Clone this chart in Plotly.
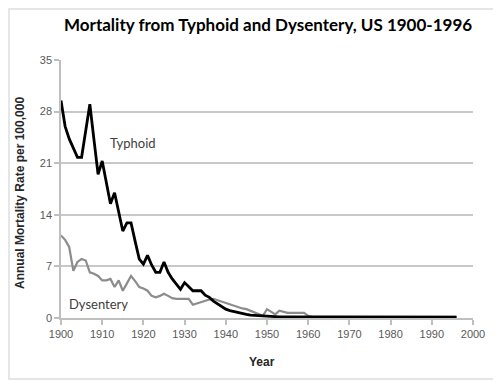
import plotly.graph_objects as go

years = list(range(1900, 1997))

typhoid_early = [29.5, 26.0, 24.3, 23.0, 21.8, 21.8, 25.4, 29.0, 24.2, 19.5,
                 21.3, 18.5, 15.5, 17.0, 14.4, 11.8, 12.9, 12.9, 10.4, 8.0,
                 7.3, 8.5, 7.2, 6.2, 6.2, 7.6, 6.2, 5.3, 4.6, 3.9,
                 4.8, 4.2, 3.7, 3.7, 3.7, 3.1, 2.8, 2.3, 1.9, 1.5,
                 1.2, 1.0, 0.85, 0.7, 0.6, 0.5, 0.4, 0.35, 0.3, 0.25,
                 0.2]
typhoid_late = [0.15] * 10 + [0.1] * 36
typhoid = typhoid_early + typhoid_late

dysentery_early = [11.2, 10.6, 9.6, 6.4, 7.6, 8.0, 7.8, 6.2, 6.0, 5.7,
                   5.1, 5.1, 5.3, 4.2, 5.1, 3.7, 4.7, 5.7, 5.0, 4.2,
                   4.0, 3.7, 3.0, 2.8, 3.0, 3.3, 3.0, 2.7, 2.6, 2.6,
                   2.6, 2.6, 1.8, 2.0, 2.1, 2.3, 2.5, 2.6, 2.4, 2.3,
                   2.1, 1.9, 1.7, 1.5, 1.3, 1.2, 1.0, 0.8, 0.5, 0.3,
                   1.2, 0.8, 0.5, 1.0, 0.8, 0.7, 0.7, 0.7, 0.7, 0.7,
                   0.3]
dysentery_late = [0.15] * 36
dysentery = dysentery_early + dysentery_late

y_ticks = [0, 7, 14, 21, 28, 35]
x_ticks = list(range(1900, 2001, 10))

title_text = "Mortality from Typhoid and Dysentery, US 1900-1996"
y_title = "Annual Mortality Rate per 100,000"
x_title = "Year"

# page body has an 8px margin; figure sized to fit the 501x382 window
OFF = 8
W, H = 501 - OFF, 382 - OFF
PL, PR, PT, PB = 61, 473, 60, 318          # plot area in screen pixels
L, T = PL - OFF, PT - OFF
R, B = W - (PR - OFF), H - (PB - OFF)
pw, ph = PR - PL, PB - PT

def px(x):
    return (x - PL) / pw

def py(y):
    return (PB - y) / ph

fig = go.Figure()
fig.add_trace(go.Scatter(x=years, y=dysentery, mode="lines",
                         line=dict(color="#8c8c8c", width=2.2), showlegend=False))
fig.add_trace(go.Scatter(x=years, y=typhoid, mode="lines",
                         line=dict(color="#000000", width=2.8), showlegend=False))

tickfont = dict(family="Liberation Sans, Arial", size=11, color="#595959")
fig.update_layout(
    width=W, height=H,
    margin=dict(l=L, r=R, t=T, b=B),
    paper_bgcolor="white", plot_bgcolor="white",
    xaxis=dict(range=[1900, 2000], tickvals=x_ticks, showgrid=False,
               showline=True, linecolor="#bfbfbf", linewidth=1.5,
               ticks="outside", ticklen=5, tickcolor="#bfbfbf", tickwidth=1.5,
               tickfont=tickfont, zeroline=False, fixedrange=True),
    yaxis=dict(range=[0, 35], tickvals=y_ticks, showgrid=True,
               gridcolor="#c8c8c8", gridwidth=1.5,
               showline=True, linecolor="#bfbfbf", linewidth=1.5,
               ticks="outside", ticklen=5, tickcolor="#bfbfbf", tickwidth=1.5,
               tickfont=tickfont, zeroline=False, fixedrange=True),
    shapes=[dict(type="rect", xref="paper", yref="paper",
                 x0=px(9), x1=px(497.5), y0=py(379), y1=py(9),
                 line=dict(color="#dedede", width=1.5), layer="below")],
    annotations=[
        dict(text=f"<b>{title_text}</b>", xref="paper", yref="paper",
             x=px(268), y=py(25), showarrow=False, xanchor="center", yanchor="middle",
             font=dict(family="Lato", size=17, color="#000000")),
        dict(text=f"<b>{y_title}</b>", xref="paper", yref="paper",
             x=px(20), y=py(193), showarrow=False, textangle=-90,
             xanchor="center", yanchor="middle",
             font=dict(family="Liberation Sans, Arial", size=12, color="#262626")),
        dict(text=f"<b>{x_title}</b>", xref="paper", yref="paper",
             x=px(262), y=py(362), showarrow=False, xanchor="center", yanchor="middle",
             font=dict(family="Liberation Sans, Arial", size=12, color="#262626")),
        dict(text="Typhoid", x=1917.5, y=23.7, showarrow=False,
             xanchor="center", yanchor="middle",
             font=dict(family="Lato", size=13, color="#404040")),
        dict(text="Dysentery", x=1909, y=1.9, showarrow=False,
             xanchor="center", yanchor="middle",
             font=dict(family="Lato", size=13, color="#404040")),
    ],
)

fig.write_html("out.html")
